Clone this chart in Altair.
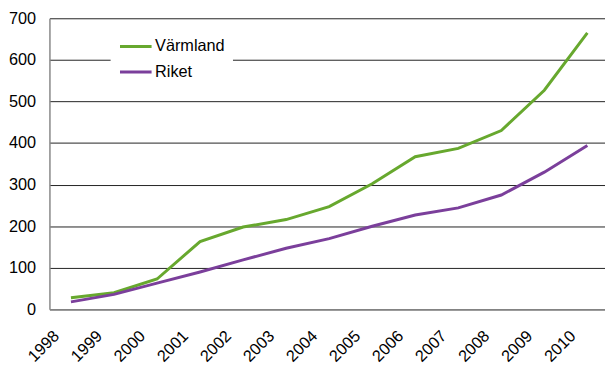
import altair as alt
import pandas as pd

years = [1998, 1999, 2000, 2001, 2002, 2003, 2004, 2005, 2006, 2007, 2008, 2009, 2010]
varmland = [28, 40, 73, 163, 198, 216, 247, 302, 367, 387, 430, 527, 665]
riket = [18, 36, 63, 90, 119, 147, 170, 200, 227, 244, 275, 330, 394]
series = ["Värmland", "Riket"]
colors = ["#67a82e", "#7b3f9b"]
y_ticks = [0, 100, 200, 300, 400, 500, 600, 700]

rows = []
for y, v, r in zip(years, varmland, riket):
    rows.append({"year": y, "serie": "Värmland", "value": v})
    rows.append({"year": y, "serie": "Riket", "value": r})
df = pd.DataFrame(rows)

FONT = "Liberation Sans"

chart = alt.Chart(df).mark_line(strokeWidth=3).encode(
    x=alt.X("year:Q",
            scale=alt.Scale(domain=[1997.5, 2010.41], nice=False, zero=False),
            axis=alt.Axis(values=years, format="d", title=None, grid=False,
                          labelAngle=-45, labelAlign="right", labelBaseline="middle",
                          labelPadding=24, labelOffset=-15, ticks=False,
                          labelFont=FONT, labelFontSize=16.5, labelColor="#000",
                          domainColor="#888", domainWidth=1.5, labelOverlap=False)),
    y=alt.Y("value:Q",
            scale=alt.Scale(domain=[0, 700], nice=False),
            axis=alt.Axis(values=y_ticks, title=None, grid=True, gridColor="#222",
                          gridWidth=1, ticks=False, labelPadding=14,
                          labelFont=FONT, labelFontSize=16.5, labelColor="#000",
                          domainColor="#888", domainWidth=1.5)),
    color=alt.Color("serie:N",
                    scale=alt.Scale(domain=series, range=colors),
                    sort=series,
                    legend=alt.Legend(title=None, orient="none", legendX=62, legendY=3,
                                      symbolType="stroke", symbolSize=1024,
                                      symbolStrokeWidth=3, fillColor="white",
                                      padding=8, labelFont=FONT, labelFontSize=16.5,
                                      labelColor="#000", rowPadding=-10, labelOffset=2)),
).properties(
    width=563, height=295,
    autosize=alt.AutoSizeParams(type="none"),
    padding={"left": 42, "top": 8, "right": 0, "bottom": 58},
).configure_view(stroke=None)

chart.save("out.html", embed_options={"renderer": "svg", "actions": False})
